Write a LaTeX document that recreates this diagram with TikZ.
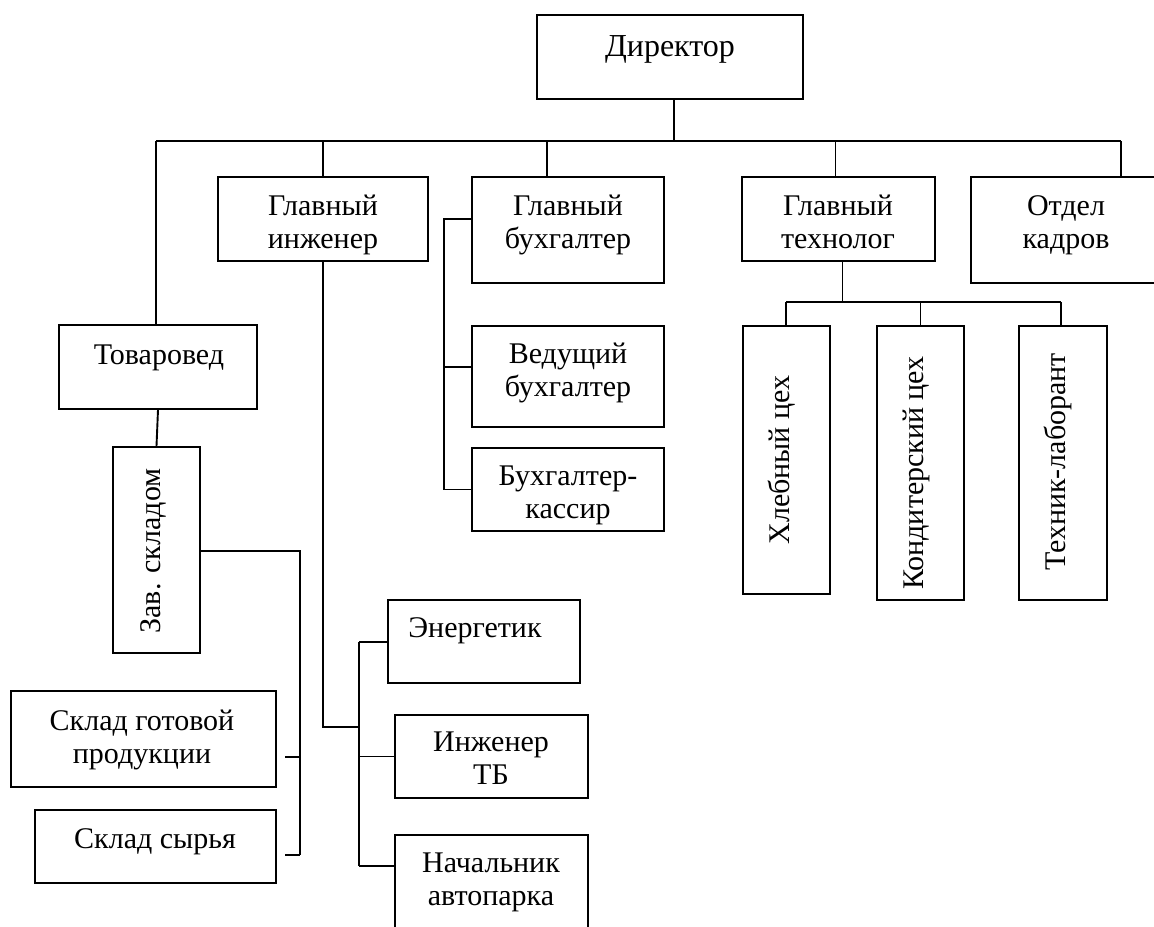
\documentclass[tikz,border=0pt]{standalone}
\usepackage{fontspec}
\setmainfont{Liberation Serif}
\usetikzlibrary{positioning, fit, calc}
\tikzset{
  orgbox/.style={rectangle, draw=black, line width=0.95pt, inner sep=0pt},
  lbl/.style={font=\fontsize{15}{16.5}\selectfont, inner sep=0pt, align=center, anchor=base},
  vlbl/.style={font=\fontsize{15}{16.5}\selectfont, inner sep=0pt, rotate=90},
  link/.style={draw=black, line width=0.95pt},
}
\begin{document}
\begin{tikzpicture}[x=0.5pt, y=-0.5pt]
  \useasboundingbox (0,0) rectangle (1154,926);

  % boxes
  \node[orgbox, fit={(537,15) (803,99)}]    (dir)    {};
  \node[orgbox, fit={(218,177) (428,261)}]  (eng)    {};
  \node[orgbox, fit={(472,177) (664,283)}]  (acc)    {};
  \node[orgbox, fit={(742,177) (935,261)}]  (tech)   {};
  \node[orgbox, fit={(971,177) (1162,283)}] (hr)     {};
  \node[orgbox, fit={(59,325) (257,409)}]   (merch)  {};
  \node[orgbox, fit={(472,326) (664,427)}]  (lacc)   {};
  \node[orgbox, fit={(472,448) (664,531)}]  (cash)   {};
  \node[orgbox, fit={(113,447) (200,653)}]  (store)  {};
  \node[orgbox, fit={(743,326) (830,594)}]  (bread)  {};
  \node[orgbox, fit={(877,326) (964,600)}]  (conf)   {};
  \node[orgbox, fit={(1019,326) (1107,600)}](lab)    {};
  \node[orgbox, fit={(11,691) (276,787)}]   (prod)   {};
  \node[orgbox, fit={(35,810) (276,883)}]   (raw)    {};
  \node[orgbox, fit={(388,600) (580,683)}]  (power)  {};
  \node[orgbox, fit={(395,715) (588,798)}]  (safety) {};
  \node[orgbox, fit={(395,835) (588,940)}]  (fleet)  {};

  % texts (base = last line)
  \node[lbl, font=\fontsize{16}{17}\selectfont] (dirT) at (670,56) {Директор};
  \node[lbl] (engT)    at (323,248) {Главный\\инженер};
  \node[lbl] (accT)    at (568,248) {Главный\\бухгалтер};
  \node[lbl] (techT)   at (838,248) {Главный\\технолог};
  \node[lbl] (hrT)     at (1066,248){Отдел\\кадров};
  \node[lbl] (merchT)  at (159,364) {Товаровед};
  \node[lbl] (laccT)   at (568,396) {Ведущий\\бухгалтер};
  \node[lbl] (cashT)   at (568,518) {Бухгалтер-\\кассир};
  \node[lbl] (prodT)   at (142,763) {Склад готовой\\продукции};
  \node[lbl] (rawT)    at (155,848) {Склад сырья};
  \node[lbl] (powerT)  at (475,637) {Энергетик};
  \node[lbl] (safetyT) at (491,784) {Инженер\\ТБ};
  \node[lbl] (fleetT)  at (491,905) {Начальник\\автопарка};
  \node[vlbl] (storeT) at (153,551) {Зав. складом};
  \node[vlbl] (breadT) at (782,460) {Хлебный цех};
  \node[vlbl] (confT)  at (916,473) {Кондитерский цех};
  \node[vlbl] (labT)   at (1058,462){Техник-лаборант};

  % junctions
  \coordinate (busL)   at (156,141);
  \coordinate (busR)   at (1121,141);
  \coordinate (accTap) at (547,141);
  \coordinate (accL)   at (444,219);
  \coordinate (storeR) at (300,551);
  \coordinate (storeB) at (300,855);
  \coordinate (engJ)   at (359,727);
  \coordinate (engTop) at (359,642);
  \coordinate (engBot) at (359,866);
  \coordinate (tbL)    at (786,302);
  \coordinate (tbR)    at (1061,302);

  % director and the first level
  \draw[link] ([xshift=2pt]dir.south) -- ([xshift=2pt]dir.south |- busL);
  \draw[link] (busL) -- (busR);
  \draw[link] (busL) -- (busL |- merch.north);
  \draw[link] (eng.north |- busL) -- (eng.north);
  \draw[link] (accTap) -- (accTap |- acc.north);
  \draw[link] ([xshift=-1.5pt]tech.north |- busL) -- ([xshift=-1.5pt]tech.north);
  \draw[link] (busR) -- (busR |- hr.north);

  % stores
  \draw[link] (merch.south) -- (store.north);
  \draw[link] (store.east |- storeR) -- (storeR) -- (storeB);
  \draw[link] (285,757) -- (storeR |- 0,757);
  \draw[link] (285,855) -- (storeB);

  % engineering
  \draw[link] (eng.south) |- (engJ);
  \draw[link] (engTop) -- (engBot);
  \draw[link] (engTop) -- (engTop -| power.west);
  \draw[link] (safety.west -| engTop) -- (safety.west);
  \draw[link] (engBot) -- (engBot -| fleet.west);

  % accounting
  \draw[link] (acc.west |- accL) -- (accL) -- (accL |- cash.west) -- (cash.west);
  \draw[link] (accL |- 0,367) -- (lacc.west |- 0,367);

  % technology
  \draw[link] ([xshift=2pt]tech.south) -- ([xshift=2pt]tech.south |- tbL);
  \draw[link] (tbL) -- (tbR);
  \draw[link] (tbL) -- (tbL |- bread.north);
  \draw[link] (conf.north |- tbL) -- (conf.north);
  \draw[link] (tbR) -- (tbR |- lab.north);
\end{tikzpicture}
\end{document}
